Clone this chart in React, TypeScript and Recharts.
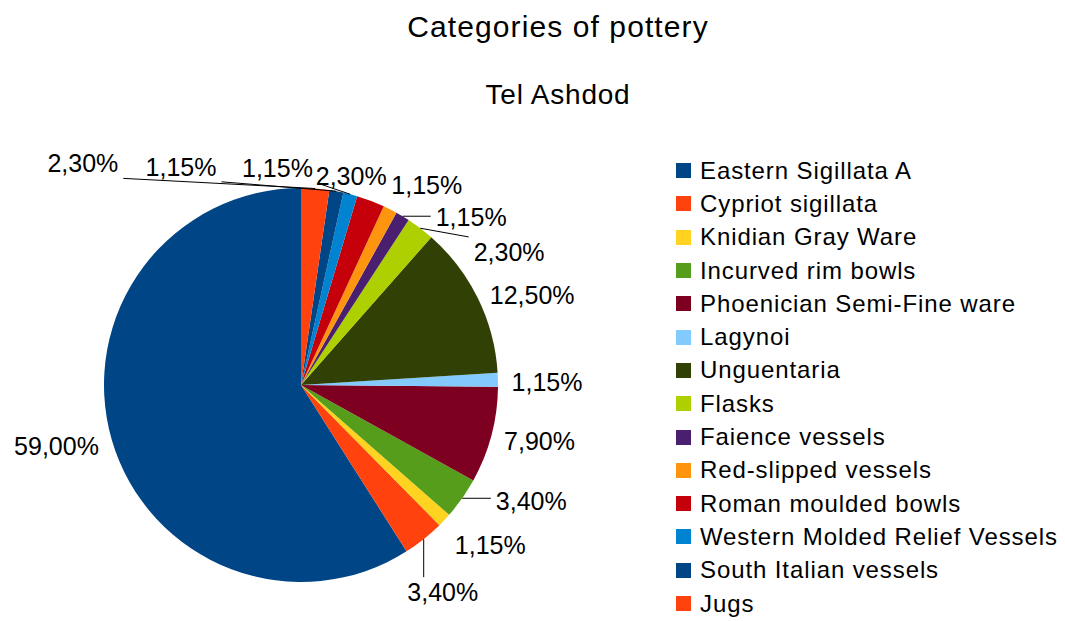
import React from 'react';
import { PieChart, Pie, Cell, Legend } from 'recharts';

const TITLE = 'Categories of pottery';
const SUBTITLE = 'Tel Ashdod';

const categories = [
  'Eastern Sigillata A',
  'Cypriot sigillata',
  'Knidian Gray Ware',
  'Incurved rim bowls',
  'Phoenician Semi-Fine ware',
  'Lagynoi',
  'Unguentaria',
  'Flasks',
  'Faience vessels',
  'Red-slipped vessels',
  'Roman moulded bowls',
  'Western Molded Relief Vessels',
  'South Italian vessels',
  'Jugs',
];

const shares = [59.0, 3.4, 1.15, 3.4, 7.9, 1.15, 12.5, 2.3, 1.15, 1.15, 2.3, 1.15, 1.15, 2.3];

const colors = [
  '#004586', '#ff420e', '#ffd320', '#579d1c', '#7e0021', '#83caff', '#314004',
  '#aecf00', '#4b1f6f', '#ff950e', '#c5000b', '#0084d1', '#004586', '#ff420e',
];

// label placement: [angle of label centre (deg), distance beyond the pie edge (px), leader line?]
const labelPlacement: [number, number, boolean][] = [
  [194.0, 55, false],
  [304.4, 54, true],
  [319.75, 51, false],
  [333.2, 61, true],
  [346.8, 48, false],
  [0.6, 49, false],
  [21.25, 51, false],
  [32.6, 50, true],
  [44.6, 42, true],
  [57.8, 39, false],
  [76.5, 18, false],
  [96.2, 21, true],
  [118.8, 52, true],
  [134.55, 114, true],
];

const data = categories.map((name, i) => ({ name, value: shares[i] }));

const FONT = '"Liberation Sans", Arial, sans-serif';
const LABEL_SIZE = 25;
const RAD = Math.PI / 180;

const charW: Record<string, number> = { ',': 0.278, '%': 0.889 };
const textWidth = (s: string, size: number) =>
  s.split('').reduce((a, c) => a + (charW[c] ?? 0.556), 0) * size;

const fmt = (v: number) => v.toFixed(2).replace('.', ',') + '%';

const renderLabel = (props: any) => {
  const { cx, cy, midAngle, outerRadius, index, value } = props;
  const [ang, off, line] = labelPlacement[index];
  const d = outerRadius + off;
  const lx = cx + d * Math.cos(ang * RAD);
  const ly = cy - d * Math.sin(ang * RAD);
  const text = fmt(value);
  const w = textWidth(text, LABEL_SIZE);
  const h = LABEL_SIZE * 0.8;
  let lineEl = null;
  if (line) {
    const ex = cx + outerRadius * Math.cos(midAngle * RAD);
    const ey = cy - outerRadius * Math.sin(midAngle * RAD);
    const pad = 5;
    const x0 = lx - w / 2 - pad, x1 = lx + w / 2 + pad;
    const y0 = ly - h / 2 - pad, y1 = ly + h / 2 + pad;
    const nx = Math.min(Math.max(ex, x0), x1);
    const ny = Math.min(Math.max(ey, y0), y1);
    lineEl = <line x1={ex} y1={ey} x2={nx} y2={ny} stroke="#000" strokeWidth={1} />;
  }
  return (
    <g key={`lab-${index}`}>
      {lineEl}
      <text
        x={lx}
        y={ly}
        textAnchor="middle"
        dominantBaseline="central"
        fontFamily={FONT}
        fontSize={LABEL_SIZE}
        fill="#000"
      >
        {text}
      </text>
    </g>
  );
};

const renderLegend = () => (
  <div style={{ fontFamily: FONT }}>
    {categories.map((name, i) => (
      <div key={`leg-${i}`} style={{ display: 'flex', alignItems: 'center', height: 33.3 }}>
        <div style={{ width: 15, height: 15, background: colors[i], marginRight: 9, flexShrink: 0 }} />
        <span style={{ fontSize: 24, letterSpacing: 0.9, color: '#000', whiteSpace: 'nowrap', lineHeight: '24px' }}>
          {name}
        </span>
      </div>
    ))}
  </div>
);

export default function App() {
  return (
    <div style={{ position: 'absolute', left: 0, top: 0, width: 1065, height: 621, background: '#fff' }}>
      <svg width={1065} height={130} style={{ position: 'absolute', left: 0, top: 0 }}>
        <text x={558} y={37} textAnchor="middle" fontFamily={FONT} fontSize={30} letterSpacing={1.1} fill="#000">
          {TITLE}
        </text>
        <text x={558} y={104} textAnchor="middle" fontFamily={FONT} fontSize={28} letterSpacing={0.8} fill="#000">
          {SUBTITLE}
        </text>
      </svg>
      <div style={{ position: 'absolute', left: 0, top: 0 }}>
        <PieChart width={1065} height={621} margin={{ top: 0, right: 0, bottom: 0, left: 0 }}>
          <Pie
            data={data}
            dataKey="value"
            nameKey="name"
            cx={301}
            cy={385}
            outerRadius={197}
            startAngle={90}
            endAngle={450}
            stroke="none"
            isAnimationActive={false}
            label={renderLabel}
            labelLine={false}
          >
            {data.map((d, i) => (
              <Cell key={d.name} fill={colors[i]} />
            ))}
          </Pie>
          <Legend
            layout="vertical"
            align="right"
            verticalAlign="top"
            content={renderLegend}
            wrapperStyle={{ position: 'absolute', left: 676, top: 154, width: 389 }}
          />
        </PieChart>
      </div>
    </div>
  );
}
